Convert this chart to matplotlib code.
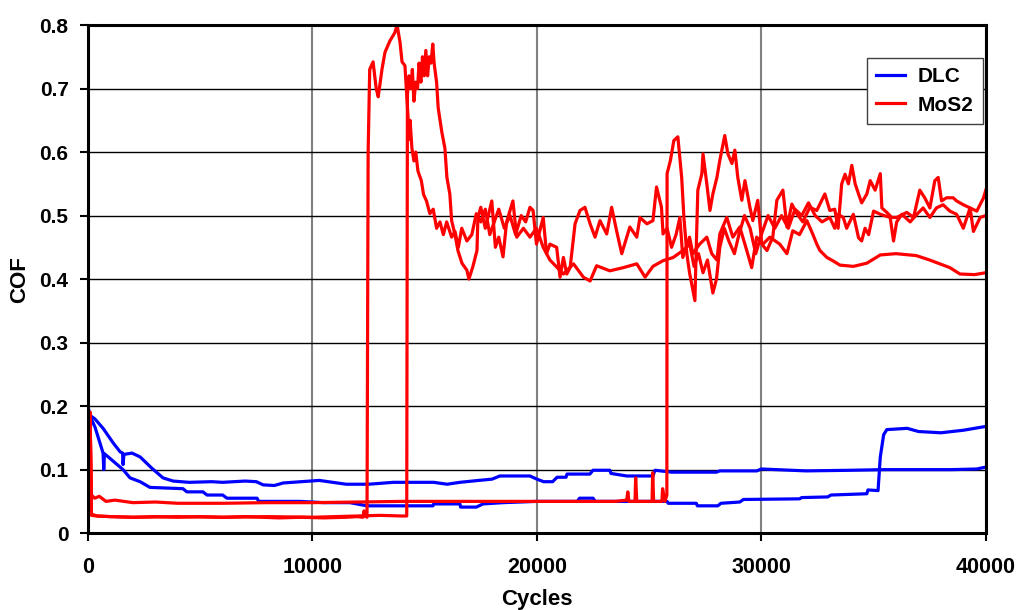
import matplotlib
matplotlib.use("Agg")
import matplotlib.pyplot as plt

plt.rcParams['font.family'] = ['Liberation Sans', 'DejaVu Sans']
plt.rcParams['font.weight'] = 'bold'

# DLC, test 1 (upper blue, ends ~0.10)
dlc1_x = [0, 60, 300, 670, 1120, 1430, 1540, 1560, 1600, 1960, 2320, 2850, 3340, 3790, 4500,
          5500, 6000, 7000, 7500, 7800, 8300, 8700, 9500, 10300, 10900, 11500, 12500, 13600,
          14500, 15400, 16000, 16570, 17400, 18000, 18350, 19690, 20000, 20300, 20700, 20900,
          21300, 21340, 22360, 22500, 23250, 23300, 24000, 25170, 25260, 26000, 28000, 28150,
          29800, 30000, 32000, 34000, 35500, 37000, 38500, 39600, 40000]
dlc1_y = [0.2, 0.186, 0.18, 0.165, 0.142, 0.128, 0.126, 0.108, 0.124, 0.126, 0.12, 0.102, 0.087,
          0.082, 0.08, 0.081, 0.08, 0.082, 0.081, 0.076, 0.075, 0.079, 0.081, 0.083, 0.08, 0.077,
          0.077, 0.08, 0.08, 0.08, 0.077, 0.08, 0.083, 0.085, 0.09, 0.09, 0.085, 0.081, 0.081,
          0.088, 0.088, 0.093, 0.093, 0.099, 0.099, 0.094, 0.09, 0.09, 0.099, 0.096, 0.096, 0.098,
          0.098, 0.101, 0.098, 0.099, 0.1, 0.1, 0.1, 0.101, 0.104]

# DLC, test 2 (lower blue, jumps near 35500)
dlc2_x = [0, 60, 310, 670, 700, 730, 900, 1560, 1870, 2320, 2760, 4230, 4400, 5120, 5300, 6000,
          6190, 7530, 7600, 9440, 10500, 11670, 12430, 15370, 15400, 16570, 16600, 17300, 17600,
          18500, 20000, 21800, 21900, 22500, 22600, 25800, 25850, 27100, 27150, 28060, 28200,
          29040, 29200, 31700, 31800, 32960, 33100, 34700, 34750, 35200, 35300, 35450, 35590,
          36500, 37000, 38000, 39000, 40000]
dlc2_y = [0.2, 0.186, 0.167, 0.126, 0.1, 0.125, 0.12, 0.1, 0.087, 0.081, 0.072, 0.07, 0.065,
          0.065, 0.06, 0.06, 0.055, 0.055, 0.05, 0.05, 0.048, 0.048, 0.043, 0.043, 0.046, 0.046,
          0.041, 0.041, 0.046, 0.048, 0.05, 0.05, 0.055, 0.055, 0.05, 0.05, 0.047, 0.047, 0.043,
          0.043, 0.047, 0.049, 0.053, 0.054, 0.056, 0.057, 0.06, 0.062, 0.068, 0.067, 0.12, 0.155,
          0.163, 0.165, 0.16, 0.158, 0.162, 0.168]

# MoS2, test 1 (jumps near 12430, peak 0.8)
mos1_x = [0, 90, 150, 400, 1000, 2000, 3000, 4000, 5000, 6000, 7000, 7800, 8500, 9500, 10500,
          11500, 12000, 12250, 12300, 12350, 12430, 12480, 12550, 12700, 12840, 12930, 13100,
          13230, 13450, 13670, 13770, 13900, 13990, 14120, 14180, 14250, 14300, 14350, 14430,
          14520, 14600, 14700, 14850, 14950, 15080, 15230, 15380, 15530, 15680, 15830, 15980,
          16200, 16350, 16500, 16650, 16880, 17100, 17300, 17500, 17700, 17900, 18100, 18300,
          18550, 18800, 19050, 19300, 19500, 19690, 19830, 19980, 20280, 20430, 20580, 20880,
          21030, 21180, 21330, 21480, 21700, 21920, 22140, 22370, 22590, 22810, 23110, 23330,
          23550, 23780, 24000, 24140, 24450, 24590, 24900, 25170, 25330, 25550, 25620, 25800,
          26000, 26200, 26370, 26500, 26800, 26950, 27250, 27570, 27790, 28020, 28150, 28460,
          28730, 29040, 29350, 29570, 29790, 30070, 30380, 30820, 31140, 31400, 31700, 32030,
          32300, 32470, 32610, 32920, 33180, 33500, 34100, 34700, 35300, 36000, 36900, 37500,
          38400, 38850, 39500, 40000]
mos1_y = [0.19, 0.19, 0.028, 0.027, 0.026, 0.025, 0.026, 0.025, 0.026, 0.025, 0.026, 0.025, 0.024,
          0.025, 0.024, 0.025, 0.026, 0.025, 0.035, 0.027, 0.025, 0.6, 0.73, 0.742, 0.70, 0.687,
          0.731, 0.757, 0.775, 0.788, 0.8, 0.773, 0.742, 0.736, 0.70, 0.66, 0.62, 0.65, 0.606,
          0.586, 0.60, 0.57, 0.555, 0.533, 0.523, 0.503, 0.51, 0.48, 0.49, 0.47, 0.49, 0.466,
          0.475, 0.45, 0.48, 0.46, 0.47, 0.503, 0.49, 0.51, 0.47, 0.49, 0.51, 0.48, 0.50, 0.47,
          0.50, 0.49, 0.513, 0.508, 0.455, 0.497, 0.44, 0.455, 0.45, 0.403, 0.434, 0.408, 0.418,
          0.487, 0.508, 0.513, 0.487, 0.466, 0.492, 0.471, 0.513, 0.476, 0.44, 0.466, 0.482, 0.466,
          0.497, 0.487, 0.492, 0.545, 0.513, 0.471, 0.48, 0.45, 0.47, 0.497, 0.434, 0.466, 0.44,
          0.455, 0.466, 0.44, 0.43, 0.471, 0.497, 0.466, 0.482, 0.445, 0.418, 0.466, 0.455, 0.466,
          0.455, 0.44, 0.476, 0.47, 0.492, 0.47, 0.455, 0.445, 0.434, 0.429, 0.422, 0.42, 0.425,
          0.438, 0.44, 0.437, 0.43, 0.418, 0.408, 0.407, 0.41]

# MoS2, test 2 (jumps near 14200)
mos2_x = [0, 90, 150, 400, 1000, 2000, 4000, 6000, 8000, 10000, 12000, 13000, 14000, 14200,
          14230, 14300, 14380, 14450, 14520, 14600, 14680, 14750, 14830, 14900, 14980, 15050,
          15130, 15200, 15280, 15360, 15420, 15530, 15600, 15760, 15900, 15990, 16120, 16200,
          16350, 16480, 16660, 16880, 16970, 17150, 17330, 17370, 17500, 17700, 17990, 18150,
          18300, 18490, 18650, 18930, 19100, 19400, 19690, 19980, 20280, 20580, 21180, 21630,
          22070, 22370, 22660, 23250, 23850, 24450, 24820, 25170, 25620, 26070, 26510, 26810,
          27000, 27200, 27400, 27600, 27840, 28000, 28150, 28350, 28550, 28800, 29000, 29250,
          29500, 29750, 30000, 30300, 30600, 30900, 31200, 31500, 31800, 32100, 32400, 32700,
          33050, 33270, 33420, 33650, 33800, 34100, 34330, 34470, 34620, 34780, 35000, 35300,
          35740, 35890, 36030, 36260, 36630, 36930, 37210, 37510, 37800, 38100, 38400, 38700,
          39000, 39300, 39450, 39750, 40000]
mos2_y = [0.19, 0.19, 0.03, 0.027, 0.026, 0.025, 0.026, 0.025, 0.026, 0.025, 0.027, 0.028,
          0.027, 0.027, 0.69, 0.72, 0.70, 0.73, 0.68, 0.71, 0.70, 0.74, 0.71, 0.75, 0.72, 0.76,
          0.72, 0.75, 0.74, 0.77, 0.74, 0.71, 0.67, 0.632, 0.606, 0.56, 0.534, 0.492, 0.47, 0.445,
          0.425, 0.414, 0.4, 0.42, 0.445, 0.497, 0.513, 0.48, 0.523, 0.45, 0.466, 0.435, 0.49,
          0.523, 0.466, 0.48, 0.466, 0.48, 0.45, 0.43, 0.408, 0.424, 0.403, 0.397, 0.421, 0.413,
          0.418, 0.424, 0.403, 0.42, 0.429, 0.434, 0.445, 0.455, 0.42, 0.44, 0.41, 0.43, 0.378,
          0.40, 0.45, 0.48, 0.46, 0.44, 0.47, 0.5, 0.48, 0.44, 0.47, 0.5, 0.48, 0.5, 0.48, 0.51,
          0.5, 0.52, 0.5, 0.49, 0.497, 0.48, 0.502, 0.497, 0.48, 0.502, 0.465, 0.46, 0.48, 0.47,
          0.507, 0.502, 0.497, 0.46, 0.49, 0.502, 0.49, 0.502, 0.512, 0.497, 0.512, 0.517, 0.507,
          0.502, 0.48, 0.512, 0.475, 0.497, 0.5]

# MoS2, test 3 (jumps near 25800)
mos3_x = [0, 90, 150, 300, 500, 800, 1200, 2000, 3000, 4000, 6000, 8000, 10000, 12000, 14000,
          16000, 18000, 20000, 22000, 23500, 24000, 24050, 24100, 24370, 24400, 24450, 25130,
          25160, 25200, 25570, 25600, 25700, 25790, 25800, 25950, 26100, 26280, 26450, 26550,
          26680, 26800, 27040, 27100, 27170, 27350, 27400, 27570, 27710, 27840, 28020, 28150,
          28370, 28510, 28690, 28820, 28950, 29130, 29270, 29490, 29620, 29840, 30020, 30250,
          30510, 30690, 30960, 31140, 31360, 31580, 31850, 32160, 32470, 32830, 33050, 33270,
          33420, 33580, 33730, 33880, 34030, 34180, 34330, 34470, 34700, 34850, 35070, 35300,
          35370, 35590, 35810, 36030, 36480, 36780, 37060, 37280, 37510, 37730, 37880, 38030,
          38250, 38550, 38700, 39000, 39300, 39600, 39900, 40000]
mos3_y = [0.19, 0.19, 0.06, 0.055, 0.058, 0.05, 0.052, 0.048, 0.049, 0.047, 0.047, 0.048,
          0.048, 0.049, 0.05, 0.05, 0.05, 0.05, 0.05, 0.05, 0.052, 0.065, 0.05, 0.05, 0.087,
          0.05, 0.05, 0.095, 0.05, 0.05, 0.07, 0.05, 0.06, 0.566, 0.587, 0.618, 0.624, 0.56,
          0.497, 0.44, 0.41, 0.366, 0.45, 0.54, 0.566, 0.597, 0.55, 0.508, 0.534, 0.56, 0.587,
          0.626, 0.597, 0.582, 0.603, 0.56, 0.524, 0.555, 0.513, 0.492, 0.524, 0.455, 0.445,
          0.466, 0.524, 0.54, 0.482, 0.518, 0.503, 0.49, 0.513, 0.508, 0.534, 0.508, 0.51, 0.48,
          0.55, 0.565, 0.55, 0.579, 0.55, 0.534, 0.52, 0.534, 0.555, 0.54, 0.566, 0.512, 0.505,
          0.497, 0.497, 0.505, 0.497, 0.54, 0.528, 0.512, 0.555, 0.56, 0.523, 0.528, 0.528,
          0.523, 0.517, 0.512, 0.507, 0.528, 0.54]

x_ticks = [0, 10000, 20000, 30000, 40000]
x_tick_labels = ['0', '10000', '20000', '30000', '40000']
y_ticks = [0, 0.1, 0.2, 0.3, 0.4, 0.5, 0.6, 0.7, 0.8]
y_tick_labels = ['0', '0.1', '0.2', '0.3', '0.4', '0.5', '0.6', '0.7', '0.8']

fig = plt.figure(figsize=(10.19, 6.10), dpi=100)
ax = fig.add_axes([0.0864, 0.126, 0.881, 0.833])

lw = 2.3
ax.plot(dlc1_x, dlc1_y, color='#0000ff', lw=lw, label='DLC')
ax.plot(dlc2_x, dlc2_y, color='#0000ff', lw=lw)
ax.plot(mos1_x, mos1_y, color='#ff0000', lw=lw, label='MoS2')
ax.plot(mos2_x, mos2_y, color='#ff0000', lw=lw)
ax.plot(mos3_x, mos3_y, color='#ff0000', lw=lw)

ax.set_xlim(0, 40000)
ax.set_ylim(0, 0.8)
ax.set_xticks(x_ticks)
ax.set_xticklabels(x_tick_labels)
ax.set_yticks(y_ticks)
ax.set_yticklabels(y_tick_labels)
ax.tick_params(axis='x', direction='out', length=6, width=1.5, pad=11, labelsize=15.5)
ax.tick_params(axis='y', direction='out', length=6, width=1.5, pad=8, labelsize=15)

ax.grid(axis='y', color='black', lw=1)
ax.grid(axis='x', color='#808080', lw=1.5)
ax.set_axisbelow(True)
for s in ax.spines.values():
    s.set_linewidth(2.2)
    s.set_color('black')

ax.set_xlabel('Cycles', fontsize=16, fontweight='bold', labelpad=8)
ax.set_ylabel('COF', fontsize=16, fontweight='bold', labelpad=7)

leg = ax.legend(loc='upper right', bbox_to_anchor=(0.997, 0.935), fontsize=15,
                handlelength=1.4, handletextpad=0.6, fancybox=False, framealpha=1,
                edgecolor='#404040', borderaxespad=0, borderpad=0.45, labelspacing=0.45)
leg.get_frame().set_linewidth(1)

plt.savefig('out.png', dpi=100)
plt.close()
